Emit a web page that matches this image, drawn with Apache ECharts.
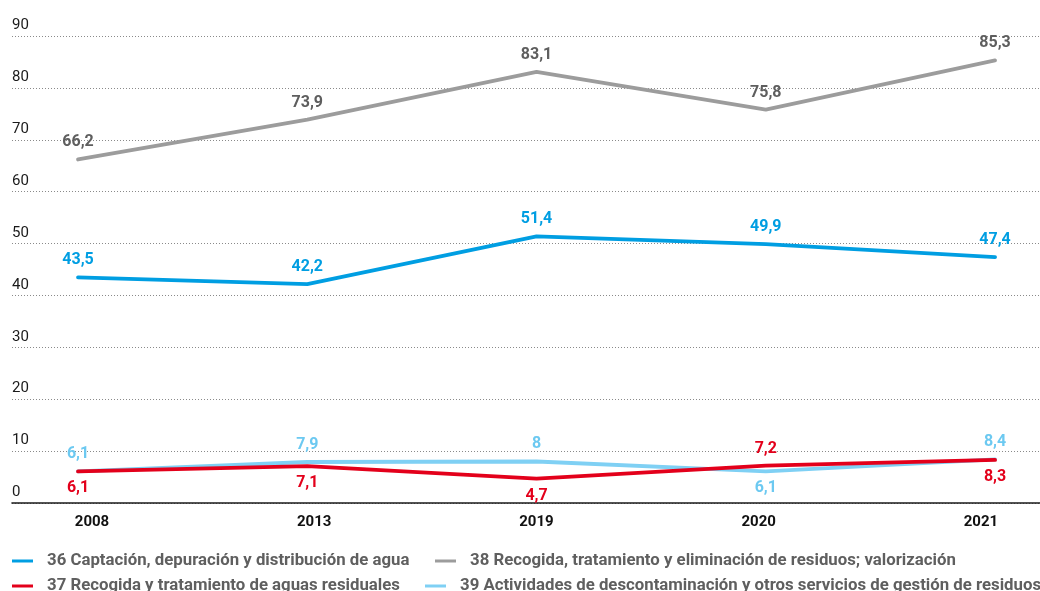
<!DOCTYPE html>
<html lang="es">
<head>
<meta charset="utf-8">
<script src="https://cdn.jsdelivr.net/npm/echarts@6/dist/echarts.min.js"></script>
<style>
  html, body { margin: 0; padding: 0; background: #ffffff; }
  #chart { width: 1040px; height: 591px; }
</style>
</head>
<body>
<div id="chart"></div>
<script>
// Años y valores por rama de actividad
const years = ['2008', '2013', '2019', '2020', '2021'];
const yTicks = [0, 10, 20, 30, 40, 50, 60, 70, 80, 90];

const seriesNames = [
  '36 Captación, depuración y distribución de agua',
  '37 Recogida y tratamiento de aguas residuales',
  '38 Recogida, tratamiento y eliminación de residuos; valorización',
  '39 Actividades de descontaminación y otros servicios de gestión de residuos'
];
const agua = [43.5, 42.2, 51.4, 49.9, 47.4];
const residuales = [6.1, 7.1, 4.7, 7.2, 8.3];
const residuos = [66.2, 73.9, 83.1, 75.8, 85.3];
const descontaminacion = [6.1, 7.9, 8, 6.1, 8.4];

// Lado de cada etiqueta de valor (encima / debajo del punto)
const sideAgua = ['top', 'top', 'top', 'top', 'top'];
const sideResiduales = ['bottom', 'bottom', 'bottom', 'top', 'bottom'];
const sideResiduos = ['top', 'top', 'top', 'top', 'top'];
const sideDescont = ['top', 'top', 'top', 'bottom', 'top'];

const FONT = 'Roboto, "Liberation Sans", sans-serif';
const colors = {
  agua: '#009ee2',
  residuales: '#e3001b',
  residuos: '#9c9c9c',
  descont: '#7fd0f4'
};

const fmt = v => String(v).replace('.', ',');

function points(values, sides, labelColor) {
  return values.map((v, i) => ({
    value: [i, v],
    label: { position: sides[i], color: labelColor }
  }));
}

function lineSeries(name, values, sides, color, labelColor) {
  return {
    name: name,
    type: 'line',
    xAxisIndex: 0,
    data: points(values, sides, labelColor),
    symbol: 'circle',
    symbolSize: 0,
    showSymbol: true,
    smooth: false,
    lineStyle: { color: color, width: 3.8, cap: 'round', join: 'round' },
    itemStyle: { color: color },
    label: {
      show: true,
      distance: 9,
      fontFamily: FONT,
      fontSize: 16,
      fontWeight: 'bold',
      formatter: p => fmt(p.value[1])
    },
    emphasis: { disabled: true },
    animation: false
  };
}

function legendAt(name, left, top) {
  return {
    data: [name],
    left: left,
    top: top,
    padding: 0,
    itemWidth: 21,
    itemHeight: 3,
    icon: 'rect',
    selectedMode: false,
    textStyle: {
      fontFamily: FONT,
      fontSize: 16.8,
      fontWeight: 'bold',
      color: '#5f5f5f',
      lineHeight: 18,
      padding: [0, 0, 0, 9]
    }
  };
}

const chart = echarts.init(document.getElementById('chart'), null, { renderer: 'canvas' });

chart.setOption({
  animation: false,
  backgroundColor: '#ffffff',
  grid: { left: 12, right: 0, top: 36, bottom: 88, containLabel: false },
  xAxis: [
    {
      // escala de los puntos
      type: 'value',
      min: -0.288,
      max: 4.196,
      axisLine: { show: true, onZero: false, lineStyle: { color: '#1a1a1a', width: 1.6 } },
      axisTick: { show: false },
      axisLabel: { show: false },
      splitLine: { show: false }
    },
    {
      // rótulos de los años
      type: 'value',
      position: 'bottom',
      min: -0.36,
      max: 4.266,
      axisLine: { show: false },
      axisTick: { show: false },
      splitLine: { show: false },
      axisLabel: {
        show: true,
        customValues: years.map((y, i) => i),
        formatter: v => years[Math.round(v)],
        margin: 12,
        fontFamily: FONT,
        fontSize: 15,
        fontWeight: 'bold',
        color: '#111111'
      }
    }
  ],
  yAxis: {
    type: 'value',
    min: yTicks[0],
    max: yTicks[yTicks.length - 1],
    interval: 10,
    axisLine: { show: false },
    axisTick: { show: false },
    axisLabel: {
      inside: true,
      margin: 0,
      align: 'left',
      verticalAlign: 'bottom',
      padding: [0, 0, 3, 0],
      fontFamily: FONT,
      fontSize: 15,
      color: '#1a1a1a',
      formatter: v => String(v)
    },
    splitLine: {
      show: true,
      lineStyle: { color: '#8a8a8a', width: 1, type: [1, 2] }
    }
  },
  legend: [
    legendAt(seriesNames[0], 12, 552),
    legendAt(seriesNames[1], 12, 577),
    legendAt(seriesNames[2], 435, 552),
    legendAt(seriesNames[3], 425, 577)
  ],
  series: [
    lineSeries(seriesNames[2], residuos, sideResiduos, colors.residuos, '#5e5e5e'),
    lineSeries(seriesNames[0], agua, sideAgua, colors.agua, colors.agua),
    lineSeries(seriesNames[3], descontaminacion, sideDescont, colors.descont, '#6cc9f1'),
    lineSeries(seriesNames[1], residuales, sideResiduales, colors.residuales, colors.residuales)
  ]
});
</script>
</body>
</html>
